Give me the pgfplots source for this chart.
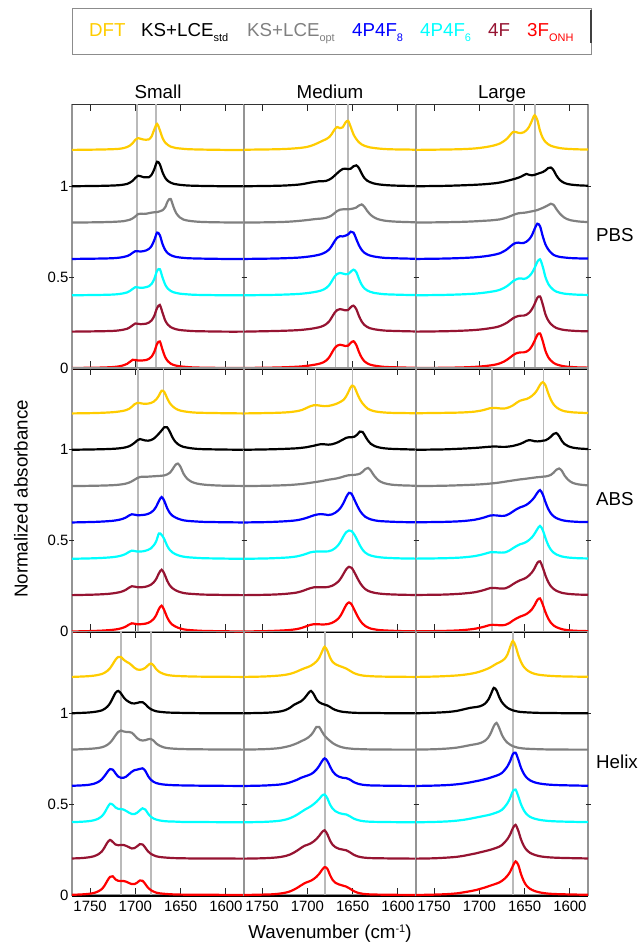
\documentclass[border=0pt]{standalone}
\usepackage{fontspec}
\setmainfont{Liberation Sans}
\usepackage{pgfplots}
\usepackage{pgfplotstable}
\pgfplotsset{compat=1.18}

\definecolor{cDFT}{RGB}{255,204,0}
\definecolor{cStd}{RGB}{0,0,0}
\definecolor{cOpt}{RGB}{128,128,128}
\definecolor{cEight}{RGB}{0,0,255}
\definecolor{cSix}{RGB}{0,255,255}
\definecolor{cFour}{RGB}{150,20,50}
\definecolor{cThree}{RGB}{255,0,0}

% ---------- PBS / Small
\pgfplotstableread{
x a b c d e f g
1770 0 0 0 0 0 0 0
1740 0.002 0.002 0.002 0.002 0.002 0.002 0.002
1725 0.004 0.004 0.004 0.004 0.004 0.004 0.005
1718 0.006 0.006 0.006 0.007 0.007 0.007 0.009
1713 0.01 0.009 0.008 0.011 0.011 0.011 0.015
1709 0.016 0.013 0.012 0.016 0.016 0.016 0.023
1706 0.024 0.02 0.016 0.023 0.024 0.024 0.034
1703 0.037 0.03 0.023 0.034 0.035 0.035 0.045
1700 0.056 0.046 0.034 0.043 0.045 0.045 0.044
1697 0.065 0.058 0.047 0.042 0.043 0.043 0.041
1694 0.061 0.055 0.049 0.041 0.041 0.041 0.041
1691 0.057 0.05 0.048 0.043 0.042 0.042 0.042
1688 0.056 0.049 0.049 0.047 0.045 0.044 0.044
1685 0.058 0.05 0.052 0.055 0.05 0.05 0.05
1682 0.075 0.064 0.055 0.072 0.063 0.062 0.063
1679 0.114 0.095 0.057 0.105 0.091 0.088 0.09
1676 0.143 0.135 0.058 0.145 0.135 0.13 0.133
1673 0.109 0.121 0.062 0.131 0.144 0.147 0.146
1670 0.066 0.077 0.068 0.082 0.098 0.104 0.1
1667 0.04 0.046 0.085 0.049 0.058 0.061 0.059
1664 0.027 0.029 0.12 0.031 0.036 0.038 0.037
1661 0.018 0.02 0.13 0.021 0.024 0.025 0.024
1658 0.014 0.014 0.088 0.015 0.017 0.018 0.017
1655 0.01 0.011 0.053 0.011 0.013 0.013 0.013
1651 0.008 0.008 0.029 0.008 0.009 0.009 0.009
1647 0.006 0.006 0.017 0.006 0.007 0.007 0.007
1642 0.004 0.004 0.011 0.004 0.005 0.005 0.005
1636 0.003 0.003 0.007 0.003 0.003 0.003 0.003
1628 0.002 0.002 0.004 0.002 0.002 0.002 0.002
1615 0.001 0.001 0.002 0.001 0.001 0.001 0.001
1600 0 0 0.001 0 0 0 0
1580 0 0 0 0 0 0 0
}\tAL

% ---------- PBS / Medium
\pgfplotstableread{
x a b c d e f g
1770 0.001 0 0 0 0 0 0
1740 0.003 0.002 0.002 0.002 0.002 0.003 0.002
1725 0.005 0.004 0.004 0.004 0.004 0.005 0.004
1715 0.008 0.007 0.007 0.006 0.006 0.007 0.006
1708 0.011 0.01 0.01 0.008 0.008 0.009 0.008
1702 0.015 0.015 0.013 0.011 0.011 0.012 0.011
1697 0.021 0.02 0.016 0.014 0.014 0.015 0.014
1692 0.03 0.024 0.019 0.018 0.018 0.019 0.018
1688 0.039 0.027 0.021 0.022 0.022 0.023 0.022
1685 0.046 0.028 0.022 0.026 0.026 0.027 0.026
1682 0.053 0.028 0.024 0.032 0.032 0.033 0.032
1679 0.06 0.03 0.027 0.04 0.041 0.042 0.042
1676 0.07 0.036 0.032 0.052 0.055 0.056 0.058
1673 0.088 0.045 0.04 0.072 0.078 0.079 0.083
1670 0.112 0.058 0.052 0.097 0.102 0.103 0.108
1667 0.126 0.072 0.064 0.117 0.118 0.119 0.123
1664 0.12 0.085 0.071 0.125 0.123 0.124 0.128
1661 0.124 0.095 0.073 0.124 0.12 0.121 0.125
1658 0.15 0.097 0.073 0.128 0.116 0.117 0.121
1655 0.16 0.094 0.073 0.135 0.117 0.119 0.123
1652 0.125 0.097 0.075 0.15 0.13 0.135 0.139
1649 0.085 0.11 0.078 0.145 0.141 0.143 0.147
1646 0.06 0.115 0.083 0.11 0.128 0.124 0.127
1643 0.042 0.1 0.094 0.075 0.09 0.086 0.088
1640 0.03 0.07 0.1 0.05 0.058 0.056 0.057
1637 0.023 0.045 0.087 0.034 0.038 0.037 0.037
1634 0.018 0.031 0.065 0.025 0.027 0.026 0.026
1631 0.014 0.023 0.047 0.019 0.02 0.019 0.019
1627 0.011 0.016 0.031 0.014 0.014 0.014 0.014
1622 0.008 0.011 0.019 0.01 0.01 0.01 0.01
1615 0.005 0.007 0.011 0.006 0.006 0.006 0.006
1605 0.003 0.004 0.006 0.004 0.004 0.004 0.004
1590 0.002 0.002 0.003 0.002 0.002 0.002 0.002
1580 0.001 0.001 0.002 0.001 0.001 0.001 0.001
}\tAM

% ---------- PBS / Large
\pgfplotstableread{
x a b c d e f g
1770 0 0 0 0 0 0 0
1740 0.002 0.002 0.002 0.002 0.002 0.002 0.001
1720 0.004 0.005 0.004 0.005 0.005 0.005 0.003
1705 0.008 0.008 0.007 0.009 0.009 0.009 0.006
1695 0.014 0.011 0.01 0.014 0.014 0.014 0.01
1688 0.02 0.014 0.012 0.019 0.019 0.019 0.014
1682 0.027 0.017 0.015 0.025 0.024 0.024 0.019
1677 0.036 0.021 0.018 0.032 0.031 0.031 0.026
1673 0.048 0.025 0.023 0.042 0.04 0.04 0.035
1669 0.064 0.03 0.029 0.055 0.052 0.051 0.047
1666 0.082 0.034 0.035 0.068 0.064 0.062 0.058
1663 0.098 0.038 0.041 0.08 0.077 0.073 0.07
1660 0.099 0.042 0.047 0.088 0.086 0.081 0.079
1657 0.094 0.047 0.051 0.09 0.092 0.086 0.084
1654 0.093 0.053 0.053 0.087 0.093 0.088 0.086
1651 0.097 0.061 0.054 0.088 0.09 0.088 0.086
1648 0.108 0.068 0.056 0.095 0.094 0.093 0.09
1645 0.128 0.063 0.059 0.108 0.105 0.104 0.1
1642 0.16 0.06 0.062 0.13 0.123 0.123 0.12
1639 0.191 0.063 0.065 0.165 0.15 0.152 0.149
1636 0.165 0.068 0.069 0.194 0.184 0.186 0.182
1633 0.105 0.073 0.075 0.18 0.198 0.194 0.19
1630 0.066 0.078 0.081 0.125 0.158 0.15 0.148
1627 0.044 0.087 0.088 0.08 0.1 0.095 0.094
1624 0.031 0.1 0.096 0.053 0.064 0.062 0.06
1621 0.023 0.103 0.104 0.035 0.043 0.042 0.041
1618 0.018 0.088 0.098 0.022 0.029 0.029 0.028
1615 0.014 0.06 0.075 0.016 0.02 0.02 0.02
1611 0.01 0.034 0.049 0.011 0.014 0.014 0.014
1606 0.007 0.018 0.027 0.008 0.009 0.009 0.009
1600 0.005 0.01 0.014 0.005 0.006 0.006 0.006
1590 0.003 0.005 0.006 0.003 0.003 0.003 0.003
1580 0.002 0.003 0.003 0.002 0.002 0.002 0.002
}\tAR

% ---------- ABS / Small
\pgfplotstableread{
x a b c d e f g
1770 0 0 0 0 0 0 0
1745 0.002 0.002 0.002 0.003 0.003 0.003 0.003
1730 0.005 0.004 0.004 0.007 0.007 0.007 0.007
1722 0.008 0.006 0.006 0.011 0.011 0.012 0.011
1716 0.012 0.009 0.009 0.017 0.017 0.018 0.017
1711 0.017 0.013 0.013 0.026 0.026 0.028 0.026
1707 0.025 0.019 0.019 0.038 0.038 0.041 0.038
1704 0.036 0.027 0.026 0.045 0.045 0.049 0.045
1701 0.05 0.038 0.035 0.043 0.043 0.047 0.043
1698 0.058 0.051 0.044 0.04 0.04 0.044 0.04
1695 0.057 0.059 0.05 0.04 0.04 0.043 0.04
1692 0.054 0.055 0.052 0.041 0.041 0.044 0.041
1689 0.053 0.051 0.052 0.043 0.044 0.046 0.043
1686 0.054 0.05 0.052 0.047 0.049 0.05 0.047
1683 0.057 0.053 0.053 0.054 0.057 0.057 0.055
1680 0.064 0.06 0.054 0.066 0.072 0.069 0.068
1677 0.077 0.073 0.055 0.087 0.096 0.089 0.09
1674 0.098 0.089 0.056 0.118 0.139 0.12 0.124
1671 0.125 0.106 0.057 0.14 0.132 0.14 0.142
1668 0.118 0.124 0.059 0.118 0.108 0.118 0.116
1665 0.085 0.124 0.064 0.08 0.073 0.081 0.079
1662 0.057 0.1 0.073 0.053 0.049 0.054 0.053
1659 0.04 0.068 0.092 0.037 0.035 0.038 0.037
1656 0.028 0.045 0.115 0.028 0.026 0.028 0.028
1653 0.02 0.031 0.124 0.021 0.02 0.021 0.021
1650 0.015 0.022 0.105 0.016 0.015 0.016 0.016
1647 0.012 0.016 0.07 0.012 0.012 0.012 0.012
1643 0.009 0.012 0.042 0.009 0.009 0.009 0.009
1638 0.006 0.008 0.024 0.007 0.007 0.007 0.007
1632 0.004 0.005 0.014 0.005 0.005 0.005 0.005
1624 0.003 0.003 0.008 0.003 0.003 0.003 0.003
1612 0.002 0.002 0.004 0.002 0.002 0.002 0.002
1600 0.001 0.001 0.002 0.001 0.001 0.001 0.001
1580 0 0 0.001 0 0 0 0
}\tBL

% ---------- ABS / Medium
\pgfplotstableread{
x a b c d e f g
1770 0 0 0 0 0 0 0
1745 0.002 0.002 0.002 0.002 0.002 0.002 0.002
1730 0.004 0.004 0.004 0.005 0.005 0.005 0.005
1720 0.007 0.006 0.006 0.008 0.008 0.009 0.008
1712 0.012 0.008 0.009 0.012 0.013 0.014 0.013
1706 0.019 0.011 0.012 0.018 0.02 0.022 0.02
1701 0.03 0.014 0.015 0.025 0.028 0.031 0.029
1697 0.039 0.018 0.018 0.032 0.035 0.038 0.036
1693 0.045 0.022 0.021 0.039 0.039 0.043 0.04
1689 0.045 0.027 0.024 0.044 0.04 0.044 0.04
1685 0.042 0.031 0.027 0.046 0.04 0.043 0.039
1681 0.04 0.03 0.031 0.044 0.04 0.043 0.039
1677 0.041 0.028 0.035 0.041 0.041 0.045 0.041
1673 0.045 0.03 0.038 0.044 0.047 0.051 0.047
1669 0.051 0.036 0.041 0.054 0.06 0.062 0.058
1666 0.057 0.042 0.044 0.066 0.075 0.074 0.07
1663 0.065 0.05 0.048 0.083 0.097 0.093 0.09
1660 0.075 0.058 0.053 0.108 0.125 0.118 0.118
1657 0.095 0.066 0.057 0.14 0.147 0.143 0.147
1654 0.125 0.069 0.06 0.163 0.156 0.156 0.16
1651 0.152 0.069 0.061 0.156 0.152 0.15 0.148
1648 0.145 0.072 0.062 0.125 0.132 0.125 0.118
1645 0.11 0.083 0.064 0.093 0.104 0.096 0.088
1642 0.078 0.1 0.068 0.065 0.074 0.069 0.062
1639 0.055 0.098 0.079 0.045 0.05 0.048 0.043
1636 0.038 0.074 0.094 0.031 0.034 0.033 0.03
1633 0.025 0.05 0.1 0.023 0.024 0.024 0.022
1630 0.018 0.033 0.086 0.017 0.018 0.018 0.016
1626 0.012 0.021 0.056 0.012 0.013 0.013 0.012
1621 0.008 0.013 0.03 0.008 0.009 0.009 0.008
1615 0.005 0.008 0.016 0.006 0.006 0.006 0.006
1607 0.003 0.005 0.008 0.004 0.004 0.004 0.004
1595 0.002 0.003 0.004 0.002 0.002 0.002 0.002
1580 0.001 0.001 0.002 0.001 0.001 0.001 0.001
}\tBM

% ---------- ABS / Large
\pgfplotstableread{
x a b c d e f g
1770 0.001 0 0 0.001 0.001 0.001 0.001
1740 0.003 0.002 0.002 0.003 0.003 0.003 0.003
1720 0.005 0.006 0.005 0.007 0.007 0.008 0.007
1705 0.01 0.01 0.008 0.015 0.015 0.016 0.015
1695 0.019 0.014 0.011 0.027 0.026 0.028 0.026
1688 0.029 0.017 0.014 0.038 0.036 0.039 0.036
1682 0.03 0.018 0.017 0.039 0.036 0.039 0.036
1676 0.027 0.016 0.021 0.036 0.034 0.036 0.034
1671 0.028 0.016 0.025 0.038 0.036 0.038 0.037
1667 0.034 0.018 0.028 0.047 0.045 0.047 0.046
1663 0.044 0.021 0.031 0.06 0.058 0.06 0.06
1659 0.058 0.026 0.034 0.073 0.07 0.072 0.072
1655 0.07 0.032 0.037 0.083 0.08 0.082 0.082
1651 0.076 0.041 0.039 0.09 0.086 0.089 0.089
1648 0.079 0.049 0.041 0.097 0.093 0.097 0.096
1645 0.086 0.053 0.043 0.108 0.104 0.109 0.107
1642 0.096 0.051 0.045 0.122 0.118 0.125 0.122
1639 0.11 0.047 0.047 0.14 0.138 0.148 0.145
1636 0.13 0.046 0.049 0.163 0.163 0.177 0.173
1633 0.157 0.047 0.05 0.178 0.181 0.186 0.182
1630 0.172 0.05 0.052 0.155 0.158 0.152 0.149
1627 0.155 0.052 0.053 0.112 0.114 0.108 0.106
1624 0.112 0.06 0.056 0.075 0.076 0.073 0.072
1621 0.075 0.072 0.062 0.05 0.05 0.049 0.048
1618 0.05 0.087 0.074 0.034 0.034 0.034 0.033
1615 0.034 0.092 0.09 0.024 0.024 0.024 0.024
1612 0.024 0.076 0.097 0.018 0.018 0.018 0.018
1609 0.017 0.05 0.085 0.013 0.013 0.013 0.013
1606 0.012 0.032 0.059 0.01 0.01 0.01 0.01
1602 0.009 0.02 0.035 0.007 0.007 0.007 0.007
1597 0.006 0.012 0.018 0.005 0.005 0.005 0.005
1590 0.004 0.007 0.009 0.003 0.003 0.003 0.003
1580 0.002 0.004 0.004 0.002 0.002 0.002 0.002
}\tBR

% ---------- Helix / Small
\pgfplotstableread{
x a b c d e f g
1770 0 0 0 0.001 0.001 0.001 0.001
1760 0.002 0.002 0.002 0.003 0.003 0.003 0.003
1752 0.004 0.004 0.004 0.006 0.006 0.007 0.006
1746 0.007 0.007 0.006 0.012 0.011 0.013 0.011
1741 0.011 0.011 0.009 0.022 0.02 0.024 0.02
1737 0.016 0.016 0.013 0.037 0.034 0.04 0.033
1734 0.023 0.024 0.018 0.055 0.053 0.062 0.052
1731 0.033 0.036 0.026 0.076 0.08 0.088 0.078
1728 0.048 0.055 0.038 0.093 0.102 0.103 0.1
1725 0.07 0.083 0.056 0.09 0.097 0.092 0.103
1722 0.094 0.112 0.078 0.07 0.082 0.078 0.086
1719 0.11 0.123 0.097 0.052 0.074 0.074 0.078
1716 0.11 0.11 0.105 0.045 0.073 0.075 0.077
1713 0.095 0.088 0.1 0.045 0.07 0.075 0.077
1710 0.084 0.072 0.097 0.052 0.062 0.07 0.073
1707 0.076 0.062 0.097 0.065 0.053 0.063 0.066
1704 0.064 0.055 0.093 0.078 0.046 0.056 0.06
1701 0.05 0.054 0.079 0.087 0.045 0.058 0.06
1698 0.041 0.057 0.063 0.09 0.053 0.068 0.068
1695 0.039 0.061 0.053 0.094 0.066 0.08 0.08
1692 0.042 0.061 0.05 0.097 0.077 0.078 0.078
1689 0.05 0.05 0.052 0.083 0.07 0.06 0.06
1686 0.064 0.034 0.057 0.055 0.048 0.04 0.04
1683 0.074 0.023 0.059 0.035 0.031 0.027 0.027
1680 0.064 0.016 0.05 0.023 0.021 0.019 0.019
1677 0.043 0.011 0.034 0.016 0.015 0.013 0.013
1673 0.026 0.008 0.021 0.011 0.01 0.009 0.009
1669 0.017 0.006 0.013 0.008 0.007 0.007 0.007
1664 0.01 0.004 0.008 0.006 0.005 0.005 0.005
1657 0.006 0.003 0.005 0.004 0.004 0.003 0.003
1648 0.004 0.002 0.003 0.003 0.002 0.002 0.002
1635 0.002 0.001 0.002 0.002 0.002 0.001 0.001
1615 0.001 0 0.001 0.001 0.001 0.001 0.001
1580 0 0 0 0 0 0 0
}\tCL

% ---------- Helix / Medium
\pgfplotstableread{
x a b c d e f g
1770 0 0 0 0 0 0 0
1750 0.002 0.002 0.002 0.002 0.002 0.002 0.002
1738 0.005 0.005 0.005 0.005 0.005 0.005 0.004
1730 0.008 0.01 0.009 0.008 0.009 0.009 0.008
1724 0.012 0.018 0.015 0.013 0.015 0.015 0.013
1719 0.017 0.031 0.021 0.02 0.023 0.023 0.02
1715 0.023 0.046 0.028 0.027 0.032 0.033 0.029
1711 0.031 0.056 0.036 0.035 0.043 0.045 0.04
1707 0.04 0.066 0.046 0.045 0.056 0.059 0.053
1703 0.048 0.084 0.055 0.052 0.069 0.071 0.065
1699 0.055 0.11 0.067 0.059 0.08 0.078 0.073
1696 0.062 0.123 0.08 0.065 0.089 0.085 0.079
1693 0.072 0.105 0.1 0.075 0.1 0.095 0.088
1690 0.085 0.077 0.125 0.09 0.113 0.108 0.1
1687 0.105 0.061 0.125 0.11 0.128 0.125 0.116
1684 0.137 0.053 0.1 0.135 0.146 0.145 0.137
1681 0.166 0.048 0.077 0.152 0.153 0.156 0.153
1678 0.145 0.043 0.061 0.138 0.133 0.135 0.145
1675 0.107 0.035 0.048 0.108 0.098 0.1 0.11
1672 0.082 0.025 0.036 0.08 0.075 0.076 0.082
1669 0.07 0.018 0.027 0.063 0.061 0.063 0.067
1665 0.061 0.012 0.018 0.051 0.051 0.054 0.058
1661 0.054 0.008 0.012 0.045 0.046 0.05 0.052
1657 0.046 0.006 0.008 0.043 0.043 0.046 0.046
1653 0.034 0.004 0.006 0.035 0.033 0.035 0.035
1649 0.022 0.003 0.004 0.022 0.021 0.022 0.022
1644 0.013 0.002 0.003 0.012 0.012 0.012 0.012
1638 0.007 0.002 0.002 0.006 0.006 0.006 0.006
1630 0.004 0.001 0.001 0.003 0.003 0.003 0.003
1620 0.002 0.001 0.001 0.002 0.002 0.002 0.002
1605 0.001 0 0 0.001 0.001 0.001 0.001
1580 0 0 0 0 0 0 0
}\tCM

% ---------- Helix / Large
\pgfplotstableread{
x a b c d e f g
1770 0 0 0 0 0 0 0
1750 0.002 0.003 0.002 0.002 0.002 0.002 0.002
1735 0.005 0.007 0.006 0.005 0.005 0.006 0.005
1725 0.008 0.013 0.011 0.009 0.009 0.01 0.009
1717 0.012 0.022 0.018 0.014 0.014 0.016 0.015
1710 0.017 0.03 0.025 0.02 0.02 0.023 0.021
1704 0.023 0.034 0.03 0.026 0.026 0.029 0.027
1699 0.03 0.039 0.036 0.031 0.031 0.035 0.034
1694 0.039 0.052 0.048 0.037 0.036 0.041 0.041
1690 0.047 0.076 0.068 0.042 0.04 0.046 0.048
1687 0.055 0.108 0.095 0.047 0.044 0.05 0.053
1684 0.064 0.14 0.13 0.052 0.049 0.055 0.058
1681 0.073 0.125 0.147 0.057 0.054 0.06 0.063
1678 0.08 0.088 0.118 0.063 0.06 0.066 0.069
1675 0.088 0.06 0.08 0.072 0.069 0.075 0.078
1672 0.1 0.043 0.055 0.088 0.085 0.09 0.09
1669 0.123 0.03 0.038 0.108 0.105 0.108 0.106
1666 0.165 0.022 0.027 0.137 0.134 0.133 0.128
1663 0.198 0.016 0.019 0.175 0.171 0.168 0.16
1660 0.17 0.012 0.014 0.183 0.18 0.186 0.185
1657 0.12 0.009 0.01 0.145 0.143 0.153 0.165
1654 0.082 0.007 0.008 0.1 0.099 0.106 0.115
1651 0.056 0.006 0.006 0.068 0.067 0.071 0.077
1648 0.04 0.005 0.005 0.047 0.046 0.049 0.052
1644 0.027 0.004 0.004 0.031 0.03 0.032 0.034
1639 0.017 0.003 0.003 0.02 0.02 0.021 0.022
1633 0.011 0.002 0.002 0.013 0.013 0.013 0.014
1625 0.007 0.001 0.001 0.008 0.008 0.008 0.008
1615 0.004 0.001 0.001 0.005 0.005 0.005 0.005
1600 0.002 0 0 0.003 0.003 0.003 0.003
1580 0.001 0 0 0.001 0.001 0.001 0.001
}\tCR

\pgfplotsset{
  panel/.style={
    scale only axis, width=172bp, height=263.5bp,
    anchor=south west,
    x dir=reverse, xmin=1580, xmax=1770, ymin=0, ymax=1.45,
    xtick={1600,1650,1700,1750}, xticklabels={},
    ytick=\empty,
    tick align=inside, major tick length=7bp,
    xtick style={black!85, line width=0.9bp},
    axis line style={draw=black!42, line width=1.3bp},
    clip=false,
    xticklabel style={font=\fontsize{15}{18}\selectfont, yshift=-3bp},
    yticklabel style={font=\fontsize{15}{18}\selectfont},
    every axis plot/.append style={line width=2.2bp, smooth},
  },
  leftcol/.style={ytick={0,0.5,1}, yticklabels={0,0.5,1}, ytick style={draw=none}},
  botrow/.style={xticklabels={1600,1650,1700,1750}},
  refl/.style={black!27, line width=1.6bp, sharp plot},
}

\newcommand\curves[1]{%
  \addplot[cDFT] table[x=x, y expr=\thisrow{a}+1.2]{#1};
  \addplot[cStd] table[x=x, y expr=\thisrow{b}+1.0]{#1};
  \addplot[cOpt] table[x=x, y expr=\thisrow{c}+0.8]{#1};
  \addplot[cEight] table[x=x, y expr=\thisrow{d}+0.6]{#1};
  \addplot[cSix] table[x=x, y expr=\thisrow{e}+0.4]{#1};
  \addplot[cFour] table[x=x, y expr=\thisrow{f}+0.2]{#1};
  \addplot[cThree] table[x=x, y expr=\thisrow{g}]{#1};
}
\newcommand\vref[1]{\addplot[refl] coordinates {(#1,0) (#1,1.45)};}
\newcommand\ytk[2]{\draw[black!85, line width=0.9bp] ([xshift=-2.5bp]rel axis cs:#1,#2) -- ([xshift=2.5bp]rel axis cs:#1,#2);}
\newcommand\extras{%
  \draw[black, line width=1.8bp] ([yshift=-0.9bp]rel axis cs:0,0) -- ([yshift=-0.9bp]rel axis cs:1,0);
  \ytk{0}{0.34483}\ytk{1}{0.34483}\ytk{0}{0.68966}\ytk{1}{0.68966}%
}
\newcommand\topline{\draw[black!80, line width=1.4bp] (rel axis cs:0,1) -- (rel axis cs:1,1);}
\newcommand\bigf{\fontsize{18.8}{22}\selectfont}
\newcommand\sub[1]{\raisebox{-5.5bp}{\fontsize{11}{12}\selectfont #1}}

\begin{document}
\begin{tikzpicture}[x=1bp,y=1bp]
\useasboundingbox (0,0) rectangle (638,947);

% ---- row 1: PBS
\begin{axis}[panel, leftcol, at={(72bp,579bp)}]
  \extras \topline \vref{1698} \vref{1677} \curves{\tAL}
\end{axis}
\begin{axis}[panel, at={(244bp,579bp)}]
  \extras \topline \vref{1669} \vref{1655} \curves{\tAM}
\end{axis}
\begin{axis}[panel, at={(416bp,579bp)}]
  \extras \topline \vref{1662} \vref{1638.5} \curves{\tAR}
\end{axis}

% ---- row 2: ABS
\begin{axis}[panel, leftcol, at={(72bp,315.5bp)}]
  \extras \vref{1697} \vref{1669} \curves{\tBL}
\end{axis}
\begin{axis}[panel, at={(244bp,315.5bp)}]
  \extras \vref{1691} \vref{1650} \curves{\tBM}
\end{axis}
\begin{axis}[panel, at={(416bp,315.5bp)}]
  \extras \vref{1686} \vref{1629} \curves{\tBR}
\end{axis}

% ---- row 3: Helix
\begin{axis}[panel, leftcol, botrow, at={(72bp,52bp)}]
  \extras \vref{1716} \vref{1683} \curves{\tCL}
\end{axis}
\begin{axis}[panel, botrow, at={(244bp,52bp)}]
  \extras \vref{1680.5} \curves{\tCM}
\end{axis}
\begin{axis}[panel, botrow, at={(416bp,52bp)}]
  \extras \vref{1663} \curves{\tCR}
\end{axis}

% ---- legend
\draw[black!45, line width=1bp] (72,892) rectangle (591,938);
\draw[black!75, line width=1.6bp] (591,937) -- (591,904);
\begin{scope}[every node/.style={inner sep=0pt, anchor=base west, font=\bigf}]
  \node[text=cDFT] at (89,910.7) {DFT};
  \node[text=cStd] at (141,910.7) {KS+LCE\sub{std}};
  \node[text=cOpt] at (247,910.7) {KS+LCE\sub{opt}};
  \node[text=cEight] at (352,910.7) {4P4F\sub{8}};
  \node[text=cSix] at (420,910.7) {4P4F\sub{6}};
  \node[text=cFour] at (488,910.7) {4F};
  \node[text=cThree] at (527,910.7) {3F\sub{ONH}};
\end{scope}

% ---- titles and labels
\begin{scope}[every node/.style={inner sep=0pt, font=\bigf}]
  \node[anchor=base] at (158,848.5) {Small};
  \node[anchor=base] at (330,848.5) {Medium};
  \node[anchor=base] at (502,848.5) {Large};
  \node[anchor=base west] at (596,705.3) {PBS};
  \node[anchor=base west] at (596,441.5) {ABS};
  \node[anchor=base west] at (596,178) {Helix};
  \node[rotate=90, anchor=center] at (21,448) {Normalized absorbance};
  \node[anchor=base] at (330,8) {Wavenumber (cm\raisebox{6bp}{\fontsize{11}{12}\selectfont -1})};
\end{scope}
\end{tikzpicture}
\end{document}
